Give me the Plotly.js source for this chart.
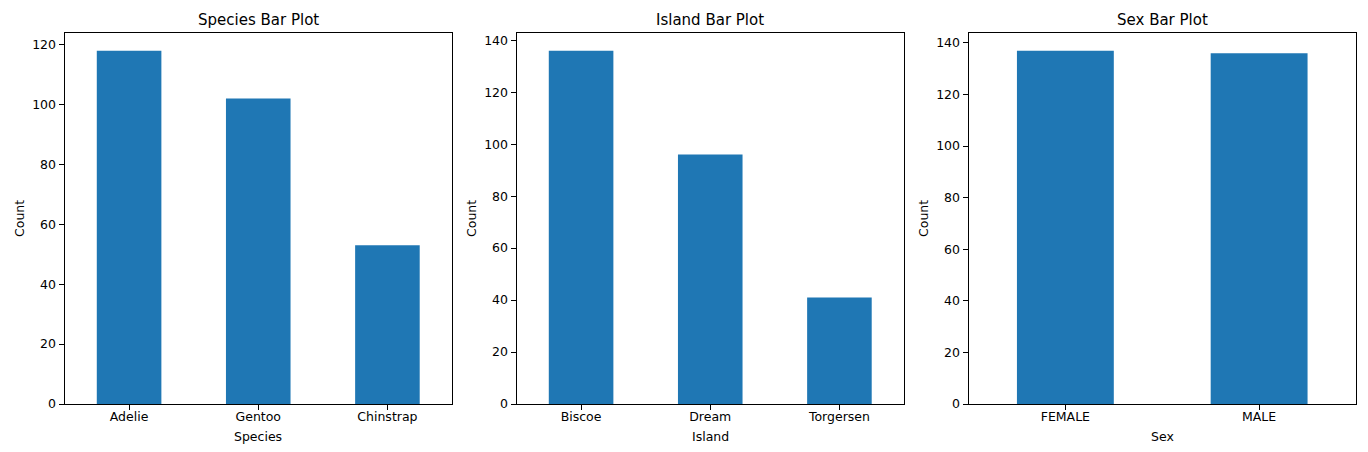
<!DOCTYPE html>
<html>
<head>
<meta charset="utf-8">
<script src="https://cdn.plot.ly/plotly-3.0.1.min.js"></script>
<style>html,body{margin:0;padding:0;background:#fff;}#chart{width:1368px;height:452px;}</style>
</head>
<body>
<div id="chart"></div>
<script>
// Data
const speciesCategories = ["Adelie", "Gentoo", "Chinstrap"];
const speciesCounts = [118, 102, 53];
const islandCategories = ["Biscoe", "Dream", "Torgersen"];
const islandCounts = [136, 96, 41];
const sexCategories = ["FEMALE", "MALE"];
const sexCounts = [137, 136];
const panelTitles = ["Species Bar Plot", "Island Bar Plot", "Sex Bar Plot"];
const xLabels = ["Species", "Island", "Sex"];
const yLabel = "Count";

const W = 1368, H = 452;
const color = "#1f77b4";
const font = {family: "DejaVu Sans, sans-serif", size: 12.5, color: "#000"};

const panels = [
  {cats: speciesCategories, vals: speciesCounts, x0: 64.5, x1: 452},
  {cats: islandCategories, vals: islandCounts, x0: 516.5, x1: 904},
  {cats: sexCategories, vals: sexCounts, x0: 968.5, x1: 1356}
];
const yTop = 33, yBot = 404;

const traces = [];
const layout = {
  width: W, height: H,
  margin: {l: 0, r: 0, t: 0, b: 0},
  paper_bgcolor: "#fff", plot_bgcolor: "#fff",
  showlegend: false,
  font: font,
  annotations: []
};

panels.forEach((p, i) => {
  const n = i + 1;
  const xa = n === 1 ? "x" : "x" + n;
  const ya = n === 1 ? "y" : "y" + n;
  traces.push({
    type: "bar", x: p.cats, y: p.vals, xaxis: xa, yaxis: ya,
    width: 0.5, marker: {color: color, line: {width: 0}},
    hoverinfo: "x+y"
  });
  const maxV = Math.max(...p.vals);
  const axCommon = {
    showline: true, mirror: true, linecolor: "#000", linewidth: 1,
    showgrid: false, zeroline: false,
    ticks: "outside", ticklen: 5, tickwidth: 1, tickcolor: "#000",
    tickfont: font, fixedrange: true
  };
  layout[n === 1 ? "xaxis" : "xaxis" + n] = Object.assign({}, axCommon, {
    domain: [p.x0 / W, p.x1 / W],
    anchor: ya,
    type: "category",
    range: [-0.5, p.cats.length - 0.5],
    ticklabelstandoff: -4
  });
  layout[n === 1 ? "yaxis" : "yaxis" + n] = Object.assign({}, axCommon, {
    domain: [(H - yBot) / H, (H - yTop) / H],
    anchor: xa,
    range: [0, maxV * 1.05],
    tickmode: "linear", tick0: 0, dtick: 20
  });
  const cx = (p.x0 + p.x1) / 2 / W;
  layout.annotations.push({
    text: panelTitles[i], xref: "paper", yref: "paper",
    x: cx, y: (H - 20.5) / H, xanchor: "center", yanchor: "middle",
    showarrow: false, font: {family: font.family, size: 15, color: "#000"}
  });
  layout.annotations.push({
    text: xLabels[i], xref: "paper", yref: "paper",
    x: cx, y: (H - 436) / H, xanchor: "center", yanchor: "middle",
    showarrow: false, font: font
  });
  layout.annotations.push({
    text: yLabel, xref: "paper", yref: "paper",
    x: (p.x0 - 45) / W, y: (H - (yTop + yBot) / 2) / H,
    xanchor: "center", yanchor: "middle", textangle: -90,
    showarrow: false, font: font
  });
});

Plotly.newPlot("chart", traces, layout, {displayModeBar: false, responsive: false});
</script>
</body>
</html>
